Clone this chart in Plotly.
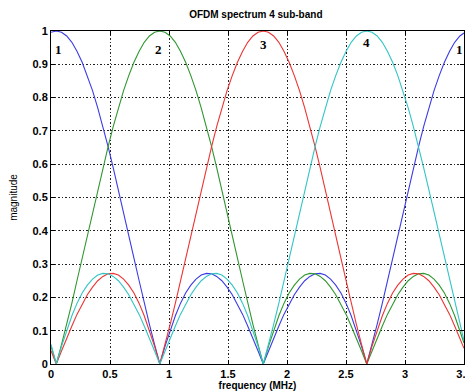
import plotly.graph_objects as go

freq = [0.000, 0.045, 0.089, 0.133, 0.177, 0.220, 0.264, 0.308, 0.352, 0.396, 0.440,
        0.484, 0.527, 0.571, 0.615, 0.659, 0.703, 0.747, 0.790, 0.834, 0.878,
        0.922, 0.966, 1.010, 1.054, 1.097, 1.141, 1.185, 1.229, 1.273, 1.317,
        1.361, 1.404, 1.448, 1.492, 1.536, 1.580, 1.624, 1.667, 1.711, 1.755,
        1.799, 1.843, 1.887, 1.931, 1.974, 2.018, 2.062, 2.106, 2.150, 2.194,
        2.238, 2.281, 2.325, 2.369, 2.413, 2.457, 2.501, 2.544, 2.588, 2.632,
        2.676, 2.720, 2.764, 2.808, 2.851, 2.895, 2.939, 2.983, 3.027, 3.071,
        3.115, 3.158, 3.202, 3.246, 3.290, 3.334, 3.378, 3.421, 3.465, 3.500]

band1 = [0.996,
         1.000, 0.996, 0.985, 0.966, 0.939, 0.906, 0.866, 0.821, 0.769, 0.713,
         0.653, 0.590, 0.524, 0.456, 0.387, 0.318, 0.250, 0.183, 0.119, 0.058,
         0.000, 0.053, 0.102, 0.145, 0.182, 0.213, 0.237, 0.255, 0.267, 0.272,
         0.271, 0.263, 0.250, 0.231, 0.208, 0.180, 0.149, 0.114, 0.078, 0.039,
         0.000,
         0.039, 0.078, 0.114, 0.149, 0.180, 0.208, 0.231, 0.250, 0.263, 0.271,
         0.272, 0.267, 0.255, 0.237, 0.213, 0.182, 0.145, 0.102, 0.053, 0.000,
         0.058, 0.119, 0.183, 0.250, 0.318, 0.387, 0.456, 0.524, 0.590, 0.653,
         0.713, 0.769, 0.821, 0.866, 0.906, 0.939, 0.966, 0.985,
         0.994]

band2 = [0.054,
         0.000, 0.058, 0.119, 0.183, 0.250, 0.318, 0.387, 0.456, 0.524, 0.590, 0.653,
         0.713, 0.769, 0.821, 0.866, 0.906, 0.939, 0.966, 0.985, 0.996, 1.000,
         0.996, 0.985, 0.966, 0.939, 0.906, 0.866, 0.821, 0.769, 0.713, 0.653,
         0.590, 0.524, 0.456, 0.387, 0.318, 0.250, 0.183, 0.119, 0.058, 0.000,
         0.053, 0.102, 0.145, 0.182, 0.213, 0.237, 0.255, 0.267, 0.272, 0.271,
         0.263, 0.250, 0.231, 0.208, 0.180, 0.149, 0.114, 0.078, 0.039, 0.000,
         0.039, 0.078, 0.114, 0.149, 0.180, 0.208, 0.231, 0.250, 0.263, 0.271,
         0.272, 0.267, 0.255, 0.237, 0.213, 0.182, 0.145, 0.102,
         0.063]

band3 = [0.040,
         0.000, 0.039, 0.078, 0.114, 0.149, 0.180, 0.208, 0.231, 0.250, 0.263,
         0.271, 0.272, 0.267, 0.255, 0.237, 0.213, 0.182, 0.145, 0.102, 0.053,
         0.000, 0.058, 0.119, 0.183, 0.250, 0.318, 0.387, 0.456, 0.524, 0.590,
         0.653, 0.713, 0.769, 0.821, 0.866, 0.906, 0.939, 0.966, 0.985, 0.996,
         1.000,
         0.996, 0.985, 0.966, 0.939, 0.906, 0.866, 0.821, 0.769, 0.713, 0.653,
         0.590, 0.524, 0.456, 0.387, 0.318, 0.250, 0.183, 0.119, 0.058, 0.000,
         0.053, 0.102, 0.145, 0.182, 0.213, 0.237, 0.255, 0.267, 0.272, 0.271,
         0.263, 0.250, 0.231, 0.208, 0.180, 0.149, 0.114, 0.078,
         0.047]

band4 = [0.059,
         0.000, 0.053, 0.102, 0.145, 0.182, 0.213, 0.237, 0.255, 0.267, 0.272,
         0.271, 0.263, 0.250, 0.231, 0.208, 0.180, 0.149, 0.114, 0.078, 0.039,
         0.000,
         0.039, 0.078, 0.114, 0.149, 0.180, 0.208, 0.231, 0.250, 0.263, 0.271,
         0.272, 0.267, 0.255, 0.237, 0.213, 0.182, 0.145, 0.102, 0.053, 0.000,
         0.058, 0.119, 0.183, 0.250, 0.318, 0.387, 0.456, 0.524, 0.590, 0.653,
         0.713, 0.769, 0.821, 0.866, 0.906, 0.939, 0.966, 0.985, 0.996, 1.000,
         0.996, 0.985, 0.966, 0.939, 0.906, 0.866, 0.821, 0.769, 0.713, 0.653,
         0.590, 0.524, 0.456, 0.387, 0.318, 0.250, 0.183, 0.119,
         0.070]

series = [("1", band1, "#3b3be6"), ("2", band2, "#2f962f"),
          ("3", band3, "#ec3434"), ("4", band4, "#33c4c4")]

label_text = ["1", "2", "3", "4", "1"]
label_x = [0.06, 0.91, 1.80, 2.67, 3.46]
label_y = [0.945, 0.945, 0.96, 0.965, 0.945]

x_ticks = [0, 0.5, 1, 1.5, 2, 2.5, 3, 3.5]
x_ticktext = ["0", "0.5", "1", "1.5", "2", "2.5", "3", "3.5"]
y_ticks = [0, 0.1, 0.2, 0.3, 0.4, 0.5, 0.6, 0.7, 0.8, 0.9, 1]
y_ticktext = ["0", "0.1", "0.2", "0.3", "0.4", "0.5", "0.6", "0.7", "0.8", "0.9", "1"]

fig = go.Figure()
for name, vals, col in series:
    fig.add_trace(go.Scatter(x=freq, y=vals, mode="lines", name=name,
                             line=dict(color=col, width=1.1), showlegend=False))

for t, lx, ly in zip(label_text, label_x, label_y):
    fig.add_annotation(x=lx, y=ly, text="<b>" + t + "</b>", showarrow=False,
                       font=dict(family="Liberation Serif", size=13, color="black"))

axis_common = dict(showline=True, linecolor="black", linewidth=1, mirror="ticks",
                   ticks="inside", ticklen=4, tickcolor="black",
                   showgrid=True, gridcolor="#222222", gridwidth=1, griddash="1.5px,2px",
                   zeroline=False, automargin=False, ticklabeloverflow="allow",
                   tickfont=dict(family="Liberation Sans", size=11, color="black", weight="bold"))

fig.update_xaxes(range=[0, 3.5], tickvals=x_ticks, ticktext=x_ticktext,
                 title=dict(text="<b>frequency (MHz)</b>", standoff=2,
                            font=dict(family="Liberation Sans", size=10, color="black")),
                 **axis_common)
fig.update_yaxes(range=[0, 1], tickvals=y_ticks, ticktext=y_ticktext,
                 title=dict(text="magnitude", standoff=20,
                            font=dict(family="Liberation Sans", size=10, color="black")),
                 **axis_common)

# the page body adds an 8px offset, so the figure is sized/margined to compensate
fig.update_layout(
    width=465, height=384,
    margin=dict(l=43, r=9, t=23, b=28),
    paper_bgcolor="white", plot_bgcolor="white",
    title=dict(text="<b>OFDM spectrum 4 sub-band</b>", x=0.533, xanchor="center",
               y=0.982, yanchor="middle",
               font=dict(family="Liberation Sans", size=10, color="black")),
)

fig.write_html("out.html")
